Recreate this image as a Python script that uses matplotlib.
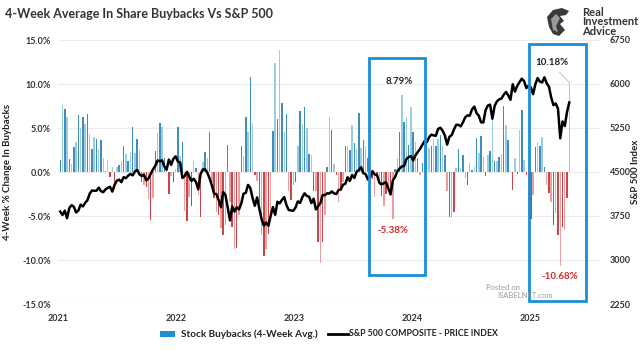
import matplotlib
matplotlib.use('Agg')
import matplotlib.pyplot as plt
import matplotlib.dates as mdates
from matplotlib.patches import Rectangle, Polygon
from matplotlib.lines import Line2D
import pandas as pd

plt.rcParams['font.family'] = ['Lato', 'DejaVu Sans']

# 4-week avg % change in buybacks, weekly from 2021-01-08
bb_2021 = [1.4, 7.6, 7.2, 6.3, 1.5, 0.9, 2.8, 3.4, 6.5, 5.0, 6.2, 5.4, 6.6, 4.3, 2.6, 4.0,
           3.7, 2.6, 3.6, 1.6, 0.1, 1.4, -0.6, 0.6, -1.9, 0.6, 0.8, 1.2, 3.0, 2.1, 1.2, 2.3,
           5.1, 2.2, 3.7, 2.5, -1.1, -1.5, -1.7, -3.1, -5.4, -3.0, 2.4, 4.4, 5.6, 5.1, 1.6,
           0.6, -2.5, -0.4, -1.1, 0.3]
bb_2022 = [5.1, 1.8, 3.4, -4.4, -5.6, -2.8, -3.9, 1.2, 0.5, -2.6, -5.1, 1.1, 2.3, 1.6, 4.5,
           -1.1, -3.0, -4.6, -4.9, -6.4, -7.2, -6.0, 3.1, -3.4, -6.2, -8.7, -8.6, -4.9, 2.9,
           1.8, 6.2, 4.5, 10.8, 5.6, -0.3, -1.0, -3.5, -7.2, -9.6, -8.7, -7.0, -5.5, 4.7,
           12.4, 6.0, 13.9, 7.8, 4.6, 6.6, -2.2, -3.2, -1.5]
bb_2023 = [-1.1, 2.9, 6.9, 5.4, 7.4, 5.0, 2.0, 1.9, -2.2, -2.2, -7.9, -10.3, -7.9, -4.9, 0.6,
           6.3, 4.8, 0.9, -0.3, -3.4, -2.2, -1.1, 3.0, 2.9, 2.5, 5.3, 3.3, 2.6, 6.7, 2.7, 3.6,
           2.9, 1.6, -4.3, -0.8, -2.8, -0.5, -1.5, -2.7, -3.9, -2.5, -2.0, -2.0, -5.38, 0.3,
           1.6, 4.6, 8.79, 5.7, 6.3, 3.1, 7.4]
bb_2024 = [4.6, 3.4, 1.6, -0.3, 1.0, 1.7, 3.4, 2.7, 2.9, 3.8, 3.0, 3.8, 4.2, 3.0, 1.9, -2.2,
           -5.1, -5.1, -4.5, 0.4, 2.6, 0.4, 1.9, -0.7, -1.5, 1.0, 0.2, 0.6, 3.9, 2.2, 4.1, 1.7,
           -0.5, 1.9, 2.4, 6.5, 1.3, 1.3, 1.7, 2.1, 7.5, 5.3, 3.6, 0.1, -2.0, 1.6, -0.2, 4.8,
           7.0, 1.4, -0.3, -5.6]
bb_2025 = [-5.3, -2.6, 2.8, 3.4, 3.0, 4.0, 0.6, -1.5, -2.4, -3.4, -6.0, -4.7, -7.2, -10.68,
           -6.2, -6.6, -3.0, 10.18]

# S&P 500 weekly close
spx_2021 = [3825, 3768, 3841, 3714, 3887, 3934, 3907, 3811, 3842, 3943, 3913, 3975, 4019, 4129,
            4185, 4180, 4181, 4233, 4174, 4156, 4204, 4230, 4247, 4166, 4281, 4352, 4370, 4327,
            4412, 4395, 4437, 4468, 4442, 4509, 4535, 4459, 4433, 4455, 4357, 4391, 4471, 4545,
            4605, 4697, 4683, 4698, 4595, 4538, 4712, 4621, 4726, 4766]
spx_2022 = [4677, 4663, 4398, 4432, 4501, 4419, 4349, 4385, 4329, 4204, 4463, 4543, 4546, 4488,
            4393, 4272, 4132, 4123, 4024, 3901, 4158, 4109, 3901, 3675, 3912, 3825, 3899, 3863,
            3962, 4130, 4145, 4280, 4228, 4058, 3924, 4067, 3873, 3693, 3586, 3640, 3583, 3753,
            3901, 3771, 3993, 3965, 4026, 4072, 3934, 3852, 3845, 3840]
spx_2023 = [3895, 3999, 3973, 4071, 4136, 4090, 4079, 3970, 4045, 3862, 3917, 3971, 4109, 4105,
            4137, 4133, 4169, 4136, 4124, 4192, 4205, 4282, 4299, 4410, 4348, 4450, 4399, 4505,
            4536, 4582, 4478, 4464, 4370, 4406, 4516, 4457, 4450, 4320, 4288, 4309, 4327, 4224,
            4117, 4358, 4415, 4514, 4559, 4595, 4604, 4719, 4755, 4770]
spx_2024 = [4697, 4784, 4840, 4891, 4959, 5027, 5006, 5089, 5137, 5124, 5117, 5234, 5254, 5204,
            5123, 4967, 5100, 5128, 5223, 5303, 5305, 5278, 5347, 5432, 5465, 5460, 5567, 5615,
            5505, 5459, 5347, 5344, 5554, 5634, 5648, 5408, 5626, 5703, 5738, 5751, 5815, 5864,
            5808, 5729, 5996, 5870, 5969, 6032, 6090, 6051, 5931, 5971]
spx_2025 = [5942, 5827, 5997, 6101, 6041, 6026, 6115, 6013, 5955, 5770, 5639, 5668, 5581, 5074,
            5363, 5283, 5525, 5686]

buybacks = bb_2021 + bb_2022 + bb_2023 + bb_2024 + bb_2025
spx = spx_2021 + spx_2022 + spx_2023 + spx_2024 + spx_2025
weeks = pd.date_range('2021-01-08', periods=len(buybacks), freq='W-FRI')

pos_cols = ['#3f8dbb', '#9acce2']
neg_cols = ['#c8454a', '#eb9fa1']
colors = [(pos_cols if v >= 0 else neg_cols)[i % 2] for i, v in enumerate(buybacks)]

W, H = 644, 355
fig = plt.figure(figsize=(W / 100, H / 100), dpi=100)
ax1 = fig.add_axes([58/W, 1-304/H, 542/W, 264/H])
ax2 = ax1.twinx()

ax1.bar(weeks, buybacks, width=4.5, color=colors, zorder=2)
ax2.plot(weeks, spx, color='black', lw=1.8, zorder=3)

ax1.set_xlim(pd.Timestamp('2021-01-01'), pd.Timestamp('2025-08-05'))
ax1.set_ylim(-15, 15)
ax1.set_yticks(range(-15, 16, 5))
ax1.set_yticklabels([f'{v:.1f}%' for v in range(-15, 16, 5)])
ax2.set_ylim(2250, 6750)
ax2.set_yticks(range(2250, 6751, 750))

ax1.xaxis.set_major_locator(mdates.YearLocator())
ax1.xaxis.set_major_formatter(mdates.DateFormatter('%Y'))
ax1.grid(axis='y', color='#ececec', lw=0.8, zorder=0)

for ax in (ax1, ax2):
    for s in ax.spines.values():
        s.set_visible(False)
    ax.tick_params(length=0, labelsize=6.5, labelcolor='#333333')
    for lab in ax.get_xticklabels() + ax.get_yticklabels():
        lab.set_fontweight('bold')
ax1.tick_params(axis='y', pad=5)
ax1.tick_params(axis='x', pad=7)
ax2.tick_params(axis='y', pad=7)

# highlight boxes
box_col = '#1a8fd6'
for x0, x1, y0, y1 in [('2023-08-20', '2024-02-09', -11.7, 13.0),
                       ('2024-12-29', '2025-06-22', -14.7, 14.5)]:
    t0, t1 = mdates.date2num(pd.Timestamp(x0)), mdates.date2num(pd.Timestamp(x1))
    ax2.add_patch(Rectangle((t0, y0), t1 - t0, y1 - y0, transform=ax1.transData,
                            fill=False, ec=box_col, lw=2, zorder=4, clip_on=False))

# annotations
i_max23 = 151
i_min23 = 147
i_min25 = 221
i_last = len(buybacks) - 1
ax1.text(weeks[i_max23] - pd.Timedelta(days=7), buybacks[i_max23] + 1.0, '8.79%',
         ha='center', va='bottom', fontsize=7, fontweight='bold', color='#222222', zorder=5)
ax1.text(weeks[i_min23], buybacks[i_min23] - 0.7, '-5.38%', ha='center', va='top',
         fontsize=7, fontweight='bold', color='#d42a2a', zorder=5)
ax1.text(weeks[i_min25], buybacks[i_min25] - 0.7, '-10.68%', ha='center', va='top',
         fontsize=7, fontweight='bold', color='#d42a2a', zorder=5)
ax2.annotate('10.18%', xy=(mdates.date2num(weeks[i_last]), buybacks[i_last]),
             xycoords=ax1.transData,
             xytext=(mdates.date2num(weeks[i_last] - pd.Timedelta(days=55)), 12.4),
             textcoords=ax1.transData, ha='center', va='center',
             fontsize=7, fontweight='bold', color='#222222', zorder=5,
             arrowprops=dict(arrowstyle='-', color='#bbbbbb', lw=0.6,
                             relpos=(0.6, 0.0), shrinkA=2, shrinkB=0))

# titles and labels
fig.text(5/W, 1-14/H, '4-Week Average In Share Buybacks Vs S&P 500', fontsize=9,
         fontweight='bold', color='#333333', ha='left', va='center')
fig.text(8/W, 1-172/H, '4-Week % Change In Buybacks', rotation=90, fontsize=7,
         fontweight='bold', color='#222222', ha='center', va='center')
fig.text(636/W, 1-172/H, 'S&P 500 Index', rotation=90, fontsize=7,
         fontweight='bold', color='#222222', ha='center', va='center')

# logo
def px(pts):
    return [(x / W, 1 - y / H) for x, y in pts]

fig.patches.append(Polygon(px([(547, 17), (553, 10), (562, 8), (569, 11), (566, 15),
                               (560, 16), (564, 21), (560, 24), (565, 30), (559, 36),
                               (553, 34), (549, 27)]),
                           closed=True, fc='#3a3a3a', ec='none', transform=fig.transFigure))
fig.patches.append(Polygon(px([(551, 19), (556, 14), (560, 18), (556, 26), (558, 32),
                               (553, 30)]),
                           closed=True, fc='#9a9a9a', ec='none', transform=fig.transFigure))
fig.text(582/W, 1-7/H, 'Real\nInvestment\nAdvice', fontsize=8, fontweight='bold',
         color='#333333', ha='left', va='top', linespacing=0.82)

fig.text(486/W, 1-287/H, 'Posted on', fontsize=5.5, color='#9a9a9a', ha='left',
         va='center')
fig.text(497/W, 1-296/H, 'ISABELNET.com', fontsize=5.5, color='#9a9a9a', ha='left',
         va='center')

# legend
fig.patches.append(Rectangle((160/W, 1-337/H), 15/W, 6/H, fc='#1e8fd0', ec='none',
                             transform=fig.transFigure))
fig.lines.append(Line2D([328/W, 348/W], [1-334/H, 1-334/H], color='black', lw=2,
                        transform=fig.transFigure))
fig.text(181/W, 1-334/H, 'Stock Buybacks (4-Week Avg.)', fontsize=7.2, fontweight='bold',
         color='#222222', ha='left', va='center')
fig.text(349/W, 1-334/H, 'S&P 500 COMPOSITE - PRICE INDEX', fontsize=6.3, fontweight='bold',
         color='#222222', ha='left', va='center')

fig.savefig('out.png', dpi=100)
